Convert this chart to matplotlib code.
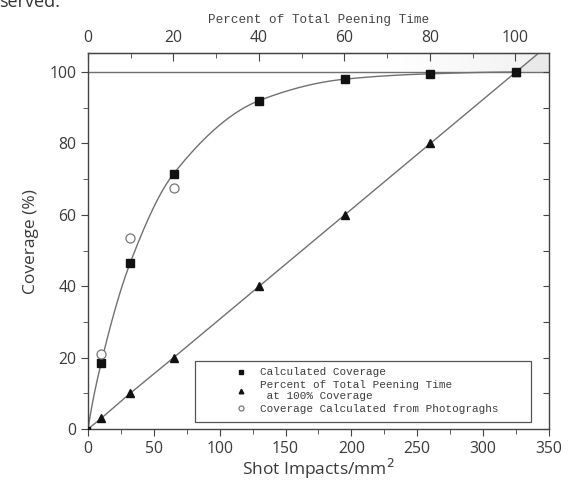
import numpy as np
import matplotlib
matplotlib.use("Agg")
import matplotlib.pyplot as plt
from matplotlib.ticker import MultipleLocator
from matplotlib.patches import Rectangle
from matplotlib.colors import LinearSegmentedColormap

# ---- data ----
calc_x = [0, 10, 32, 65, 130, 195, 260, 325]
calc_y = [0, 18.5, 46.5, 71.5, 92, 98, 99.5, 100]
time_x = [0, 10, 32, 65, 130, 195, 260, 325]
time_y = [0, 3, 10, 20, 40, 60, 80, 100]
photo_x = [10, 32, 65]
photo_y = [21, 53.5, 67.5]
full_shots = 324.5  # shots/mm2 at 100% peening time

legend_labels = ["Calculated Coverage",
                 "Percent of Total Peening Time\n at 100% Coverage",
                 "Coverage Calculated from Photograghs"]

TXT = "#3a3a3a"
LINE = "#707070"
SANS = "Open Sans"


def pchip(x, y, xs):
    x = np.asarray(x, float); y = np.asarray(y, float)
    h = np.diff(x); d = np.diff(y) / h
    n = len(x); m = np.zeros(n)
    for k in range(1, n - 1):
        if d[k - 1] * d[k] > 0:
            w1 = 2 * h[k] + h[k - 1]; w2 = h[k] + 2 * h[k - 1]
            m[k] = (w1 + w2) / (w1 / d[k - 1] + w2 / d[k])
    m[0] = d[0] * 1.3
    m[-1] = 0.0
    idx = np.clip(np.searchsorted(x, xs) - 1, 0, n - 2)
    t = (xs - x[idx]) / h[idx]
    h00 = 2 * t**3 - 3 * t**2 + 1; h10 = t**3 - 2 * t**2 + t
    h01 = -2 * t**3 + 3 * t**2; h11 = t**3 - t**2
    return h00 * y[idx] + h10 * h[idx] * m[idx] + h01 * y[idx + 1] + h11 * h[idx] * m[idx + 1]


fig = plt.figure(figsize=(5.7, 4.87), dpi=100)
ax = fig.add_axes([0.1544, 0.119, 0.8086, 0.772])
ymax = 105.3

# shaded region above 100 (faint gradient band + triangle right of diagonal line)
slope = (time_y[-1] - time_y[-2]) / (time_x[-1] - time_x[-2])
x_top = time_x[-1] + (ymax - time_y[-1]) / slope
cm = LinearSegmentedColormap.from_list("fade", ["#ffffff", "#f1f1f1"])
ax.imshow(np.linspace(0, 1, 64)[None, :], extent=[230, 350, 100, ymax], cmap=cm,
          aspect="auto", zorder=0, interpolation="bilinear")
ax.fill([time_x[-1], x_top, 350, 350], [100, ymax, ymax, 100], color="#e9e9e9", zorder=0.5, lw=0)
ax.set_xlim(0, 350)
ax.set_ylim(0, ymax)

ax.axhline(100, color=LINE, lw=1.0, zorder=1)

xs = np.linspace(0, calc_x[-1], 400)
ax.plot(xs, pchip(calc_x, calc_y, xs), color=LINE, lw=1.0, zorder=2)
ax.plot(list(time_x) + [x_top], list(time_y) + [ymax], color=LINE, lw=1.0, zorder=2)

h1, = ax.plot(calc_x[1:], calc_y[1:], 's', color="#111111", ms=5.5, ls="none", zorder=3)
ax.plot(calc_x[0], calc_y[0], 's', color="#111111", ms=3, zorder=3)
h2, = ax.plot(time_x[1:], time_y[1:], '^', color="#111111", ms=6, ls="none", zorder=3)
h3, = ax.plot(photo_x, photo_y, 'o', mfc="white", mec="#777777", mew=0.9, ms=6.5, ls="none", zorder=3)

# legend: frame drawn separately
ax.add_patch(Rectangle((0.232, 0.0186), 0.729, 0.162, transform=ax.transAxes,
                       fill=True, fc="white", ec="#555555", lw=0.9, zorder=4))
leg = ax.legend([h1, h2, h3], legend_labels, loc="upper left",
                bbox_to_anchor=(0.31, 0.164), frameon=False,
                prop={"family": "Liberation Mono", "size": 7.9},
                handletextpad=0.8, borderpad=0.0, borderaxespad=0.0,
                labelspacing=0.22, markerscale=0.55, handlelength=1.85)
leg.set_zorder(5)
for t in leg.get_texts():
    t.set_color("#3c3c3c")

ax.xaxis.set_major_locator(MultipleLocator(50))
ax.xaxis.set_minor_locator(MultipleLocator(25))
ax.yaxis.set_major_locator(MultipleLocator(20))
ax.yaxis.set_minor_locator(MultipleLocator(10))
ax.tick_params(which="both", direction="out", colors="#444444", labelcolor=TXT,
               labelsize=11.3, right=False, top=False)
ax.tick_params(which="major", length=5)
ax.tick_params(which="minor", length=3.5)
for lab in ax.get_xticklabels() + ax.get_yticklabels():
    lab.set_family(SANS)
for s in ax.spines.values():
    s.set_color("#444444"); s.set_linewidth(1.0)

# right ticks inward
ax2 = ax.twinx()
ax2.set_ylim(ax.get_ylim())
ax2.yaxis.set_major_locator(MultipleLocator(10))
ax2.tick_params(direction="in", length=4, labelright=False, colors="#444444")
for s in ax2.spines.values():
    s.set_visible(False)

secax = ax.secondary_xaxis("top", functions=(lambda x: x / full_shots * 100,
                                              lambda p: p * full_shots / 100))
secax.xaxis.set_major_locator(MultipleLocator(20))
secax.xaxis.set_minor_locator(MultipleLocator(10))
secax.tick_params(which="both", direction="in", colors="#444444", labelcolor=TXT,
                  labelsize=11.3, pad=5)
secax.tick_params(which="major", length=6)
secax.tick_params(which="minor", length=3.5)
for lab in secax.get_xticklabels():
    lab.set_family(SANS)
secax.set_xlabel("Percent of Total Peening Time", family="Liberation Mono",
                 fontsize=9.1, color="#444444", labelpad=5)

ax.set_xlabel("Shot Impacts/mm$^2$", fontsize=12.5, color=TXT, labelpad=0, family=SANS)
ax.set_ylabel("Coverage (%)", fontsize=12.5, color=TXT, labelpad=7, family=SANS)

fig.text(-0.002, 0.995, "served.", fontsize=13, color="#333333", va="center", ha="left", family=SANS)

fig.savefig("out.png", dpi=100)
